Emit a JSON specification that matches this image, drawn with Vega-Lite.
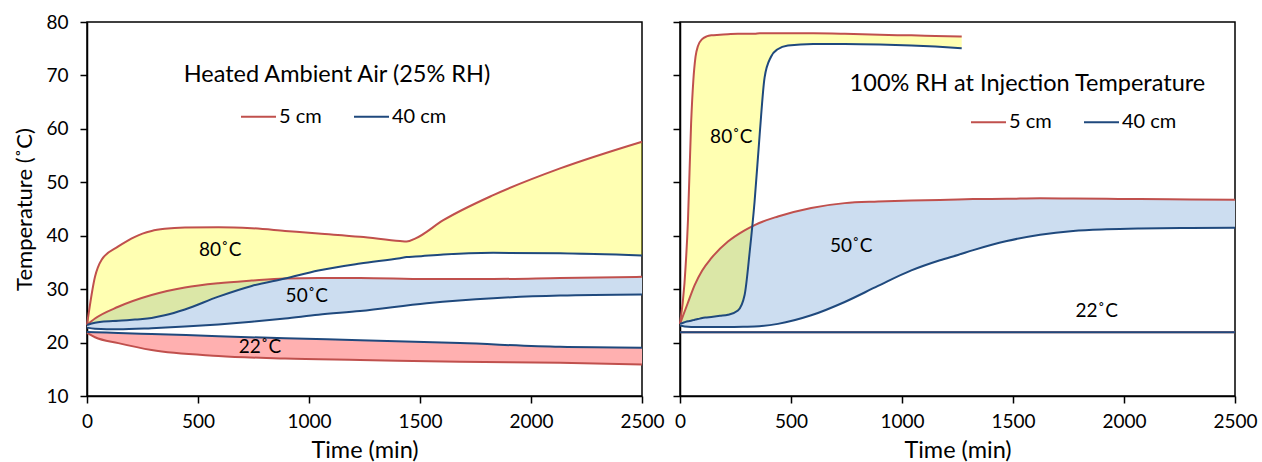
{
  "$schema": "https://vega.github.io/schema/vega-lite/v6.json",
  "padding": {"left": 13, "top": 12, "right": 2, "bottom": 2},
  "background": "white",
  "config": {
    "font": "Lato",
    "view": {"stroke": "black", "strokeWidth": 1.5},
    "axis": {"grid": false, "domainColor": "black", "domainWidth": 1.5, "tickColor": "black", "tickWidth": 1.5, "tickSize": 7, "labelColor": "black", "titleColor": "black", "labelFont": "Lato", "titleFont": "Lato", "labelFontSize": 19, "titleFontSize": 23.5, "titleFontWeight": "normal", "format": "d"},
    "axisX": {"labelPadding": 9, "titlePadding": 7},
    "axisY": {"labelPadding": 12, "titlePadding": 9, "titleFontSize": 22},
    "legend": {"orient": "none", "direction": "horizontal", "symbolType": "stroke", "symbolSize": 1225, "symbolStrokeWidth": 2, "labelFont": "Lato", "labelFontSize": 20, "labelColor": "black", "labelOffset": 2, "columnPadding": 28, "title": null}
  },
  "datasets": {
    "left": [
      {"cond": "80", "time": 0, "t5": 23.3, "t40": 23.3},
      {"cond": "80", "time": 36, "t5": 32.3, "t40": 23.7},
      {"cond": "80", "time": 66, "t5": 35.5, "t40": 23.9},
      {"cond": "80", "time": 141, "t5": 38.0, "t40": 24.1},
      {"cond": "80", "time": 180, "t5": 39.0, "t40": 24.2},
      {"cond": "80", "time": 216, "t5": 39.8, "t40": 24.3},
      {"cond": "80", "time": 250, "t5": 40.4, "t40": 24.4},
      {"cond": "80", "time": 291, "t5": 40.9, "t40": 24.6},
      {"cond": "80", "time": 350, "t5": 41.3, "t40": 25.1},
      {"cond": "80", "time": 441, "t5": 41.55, "t40": 26.2},
      {"cond": "80", "time": 592, "t5": 41.6, "t40": 28.6},
      {"cond": "80", "time": 742, "t5": 41.4, "t40": 30.6},
      {"cond": "80", "time": 892, "t5": 40.9, "t40": 32.0},
      {"cond": "80", "time": 1042, "t5": 40.4, "t40": 33.5},
      {"cond": "80", "time": 1230, "t5": 39.8, "t40": 34.8},
      {"cond": "80", "time": 1410, "t5": 39.0, "t40": 35.8},
      {"cond": "80", "time": 1440, "t5": 38.9, "t40": 36.0},
      {"cond": "80", "time": 1480, "t5": 39.5, "t40": 36.1},
      {"cond": "80", "time": 1605, "t5": 42.9, "t40": 36.5},
      {"cond": "80", "time": 1830, "t5": 47.6, "t40": 36.8},
      {"cond": "80", "time": 2131, "t5": 52.6, "t40": 36.7},
      {"cond": "80", "time": 2500, "t5": 57.6, "t40": 36.3},
      {"cond": "50", "time": 0, "t5": 23.3, "t40": 22.8},
      {"cond": "50", "time": 36, "t5": 24.5, "t40": 22.6},
      {"cond": "50", "time": 141, "t5": 26.7, "t40": 22.5},
      {"cond": "50", "time": 291, "t5": 28.9, "t40": 22.7},
      {"cond": "50", "time": 441, "t5": 30.3, "t40": 23.0},
      {"cond": "50", "time": 592, "t5": 31.1, "t40": 23.4},
      {"cond": "50", "time": 742, "t5": 31.6, "t40": 23.9},
      {"cond": "50", "time": 892, "t5": 32.0, "t40": 24.5},
      {"cond": "50", "time": 1042, "t5": 32.1, "t40": 25.2},
      {"cond": "50", "time": 1230, "t5": 32.1, "t40": 25.9},
      {"cond": "50", "time": 1530, "t5": 31.9, "t40": 27.35},
      {"cond": "50", "time": 1830, "t5": 31.9, "t40": 28.3},
      {"cond": "50", "time": 2131, "t5": 32.1, "t40": 28.8},
      {"cond": "50", "time": 2500, "t5": 32.3, "t40": 29.0},
      {"cond": "22", "time": 0, "t5": 21.8, "t40": 22.0},
      {"cond": "22", "time": 36, "t5": 21.0, "t40": 21.95},
      {"cond": "22", "time": 141, "t5": 19.9, "t40": 21.8},
      {"cond": "22", "time": 291, "t5": 18.6, "t40": 21.6},
      {"cond": "22", "time": 592, "t5": 17.5, "t40": 21.2},
      {"cond": "22", "time": 892, "t5": 17.0, "t40": 20.8},
      {"cond": "22", "time": 1230, "t5": 16.75, "t40": 20.45},
      {"cond": "22", "time": 1680, "t5": 16.4, "t40": 19.9},
      {"cond": "22", "time": 2131, "t5": 16.2, "t40": 19.2},
      {"cond": "22", "time": 2500, "t5": 15.9, "t40": 19.05}
    ],
    "right": [
      {"cond": "80", "time": 0, "t5": 23.5, "t40": 23.5},
      {"cond": "80", "time": 20, "t5": 31.0, "t40": 23.8},
      {"cond": "80", "time": 36, "t5": 43.0, "t40": 24.0},
      {"cond": "80", "time": 50, "t5": 61.0, "t40": 24.1},
      {"cond": "80", "time": 60, "t5": 69.0, "t40": 24.2},
      {"cond": "80", "time": 70, "t5": 73.5, "t40": 24.3},
      {"cond": "80", "time": 81, "t5": 75.5, "t40": 24.4},
      {"cond": "80", "time": 100, "t5": 76.8, "t40": 24.6},
      {"cond": "80", "time": 120, "t5": 77.3, "t40": 24.7},
      {"cond": "80", "time": 141, "t5": 77.5, "t40": 24.8},
      {"cond": "80", "time": 180, "t5": 77.6, "t40": 25.0},
      {"cond": "80", "time": 216, "t5": 77.7, "t40": 25.2},
      {"cond": "80", "time": 261, "t5": 77.8, "t40": 26.0},
      {"cond": "80", "time": 291, "t5": 77.8, "t40": 28.9},
      {"cond": "80", "time": 314, "t5": 77.8, "t40": 37.0},
      {"cond": "80", "time": 336, "t5": 77.8, "t40": 46.4},
      {"cond": "80", "time": 359, "t5": 77.9, "t40": 59.0},
      {"cond": "80", "time": 381, "t5": 77.9, "t40": 69.6},
      {"cond": "80", "time": 410, "t5": 77.9, "t40": 73.5},
      {"cond": "80", "time": 440, "t5": 77.9, "t40": 74.9},
      {"cond": "80", "time": 486, "t5": 77.9, "t40": 75.6},
      {"cond": "80", "time": 600, "t5": 77.9, "t40": 75.9},
      {"cond": "80", "time": 742, "t5": 77.8, "t40": 75.9},
      {"cond": "80", "time": 900, "t5": 77.6, "t40": 75.8},
      {"cond": "80", "time": 1042, "t5": 77.5, "t40": 75.6},
      {"cond": "80", "time": 1150, "t5": 77.4, "t40": 75.4},
      {"cond": "80", "time": 1269, "t5": 77.3, "t40": 75.1},
      {"cond": "50", "time": 0, "t5": 23.5, "t40": 23.2},
      {"cond": "50", "time": 36, "t5": 27.5, "t40": 22.95},
      {"cond": "50", "time": 66, "t5": 30.75, "t40": 22.9},
      {"cond": "50", "time": 100, "t5": 33.5, "t40": 22.9},
      {"cond": "50", "time": 141, "t5": 35.8, "t40": 22.9},
      {"cond": "50", "time": 216, "t5": 38.9, "t40": 22.9},
      {"cond": "50", "time": 291, "t5": 41.0, "t40": 22.95},
      {"cond": "50", "time": 336, "t5": 42.0, "t40": 23.0},
      {"cond": "50", "time": 441, "t5": 43.6, "t40": 23.5},
      {"cond": "50", "time": 591, "t5": 45.2, "t40": 25.1},
      {"cond": "50", "time": 742, "t5": 46.1, "t40": 27.6},
      {"cond": "50", "time": 892, "t5": 46.4, "t40": 30.6},
      {"cond": "50", "time": 1042, "t5": 46.6, "t40": 33.5},
      {"cond": "50", "time": 1171, "t5": 46.7, "t40": 35.4},
      {"cond": "50", "time": 1252, "t5": 46.8, "t40": 36.4},
      {"cond": "50", "time": 1321, "t5": 46.85, "t40": 37.3},
      {"cond": "50", "time": 1472, "t5": 46.9, "t40": 39.0},
      {"cond": "50", "time": 1622, "t5": 47.0, "t40": 40.2},
      {"cond": "50", "time": 1771, "t5": 46.95, "t40": 40.9},
      {"cond": "50", "time": 1922, "t5": 46.9, "t40": 41.2},
      {"cond": "50", "time": 2072, "t5": 46.85, "t40": 41.35},
      {"cond": "50", "time": 2300, "t5": 46.8, "t40": 41.45},
      {"cond": "50", "time": 2500, "t5": 46.75, "t40": 41.5},
      {"cond": "22", "time": 0, "t5": 21.95, "t40": 21.95},
      {"cond": "22", "time": 2500, "t5": 21.95, "t40": 21.95}
    ],
    "leftText": [
      {"label": "80˚C", "time": 600, "temp": 37.4},
      {"label": "50˚C", "time": 990, "temp": 28.8},
      {"label": "22˚C", "time": 779, "temp": 19.1}
    ],
    "leftTitle": [
      {"label": "Heated Ambient Air (25% RH)", "time": 1126, "temp": 70.1}
    ],
    "rightText": [
      {"label": "80˚C", "time": 231, "temp": 58.5},
      {"label": "50˚C", "time": 771, "temp": 38.1},
      {"label": "22˚C", "time": 1877, "temp": 25.9}
    ],
    "rightTitle": [
      {"label": "100% RH at Injection Temperature", "time": 1565, "temp": 68.4}
    ]
  },
  "spacing": 6,
  "resolve": {"scale": {"color": "independent"}, "legend": {"color": "independent"}},
  "hconcat": [
    {
      "width": 555,
      "height": 374,
      "data": {"name": "left"},
      "encoding": {
        "x": {"field": "time", "type": "quantitative", "scale": {"domain": [0, 2500], "nice": false}, "axis": {"values": [0, 500, 1000, 1500, 2000, 2500], "title": "Time (min)", "labelFlush": false}},
        "y": {"field": "t5", "type": "quantitative", "scale": {"domain": [10, 80], "nice": false}, "axis": {"values": [10, 20, 30, 40, 50, 60, 70, 80], "title": "Temperature (˚C)"}}
      },
      "layer": [
        {
          "transform": [{"filter": "datum.cond != '80'"}],
          "mark": {"type": "area", "interpolate": "monotone"},
          "encoding": {
            "y2": {"field": "t40"},
            "fill": {"field": "cond", "type": "nominal", "scale": {"domain": ["50", "22"], "range": ["#CCDDF0", "#FFB0B0"]}, "legend": null},
            "detail": {"field": "cond"}
          }
        },
        {
          "transform": [{"filter": "datum.cond == '80'"}],
          "mark": {"type": "area", "interpolate": "monotone", "color": "#FFFF00", "opacity": 0.3},
          "encoding": {"y2": {"field": "t40"}}
        },
        {
          "mark": {"type": "line", "interpolate": "monotone", "strokeWidth": 2},
          "encoding": {
            "detail": {"field": "cond"},
            "color": {"datum": "5 cm", "type": "nominal", "scale": {"domain": ["5 cm", "40 cm"], "range": ["#C0504D", "#1F497D"]}, "legend": {"legendX": 153, "legendY": 76}}
          }
        },
        {
          "mark": {"type": "line", "interpolate": "monotone", "strokeWidth": 2},
          "encoding": {
            "y": {"field": "t40", "type": "quantitative"},
            "detail": {"field": "cond"},
            "color": {"datum": "40 cm", "type": "nominal"}
          }
        },
        {
          "data": {"name": "leftText"},
          "mark": {"type": "text", "fontSize": 19, "font": "Lato", "color": "black"},
          "encoding": {"y": {"field": "temp", "type": "quantitative"}, "text": {"field": "label"}}
        },
        {
          "data": {"name": "leftTitle"},
          "mark": {"type": "text", "fontSize": 23.5, "font": "Lato", "color": "black"},
          "encoding": {"y": {"field": "temp", "type": "quantitative"}, "text": {"field": "label"}}
        }
      ]
    },
    {
      "width": 555,
      "height": 374,
      "data": {"name": "right"},
      "encoding": {
        "x": {"field": "time", "type": "quantitative", "scale": {"domain": [0, 2500], "nice": false}, "axis": {"values": [0, 500, 1000, 1500, 2000, 2500], "title": "Time (min)", "labelFlush": false}},
        "y": {"field": "t5", "type": "quantitative", "scale": {"domain": [10, 80], "nice": false}, "axis": {"values": [10, 20, 30, 40, 50, 60, 70, 80], "labels": false, "title": null}}
      },
      "layer": [
        {
          "transform": [{"filter": "datum.cond != '80'"}],
          "mark": {"type": "area", "interpolate": "monotone"},
          "encoding": {
            "y2": {"field": "t40"},
            "fill": {"field": "cond", "type": "nominal", "scale": {"domain": ["50", "22"], "range": ["#CCDDF0", "#FFB0B0"]}, "legend": null},
            "detail": {"field": "cond"}
          }
        },
        {
          "transform": [{"filter": "datum.cond == '80'"}],
          "mark": {"type": "area", "interpolate": "monotone", "color": "#FFFF00", "opacity": 0.3},
          "encoding": {"y2": {"field": "t40"}}
        },
        {
          "mark": {"type": "line", "interpolate": "monotone", "strokeWidth": 2},
          "encoding": {
            "detail": {"field": "cond"},
            "color": {"datum": "5 cm", "type": "nominal", "scale": {"domain": ["5 cm", "40 cm"], "range": ["#C0504D", "#1F497D"]}, "legend": {"legendX": 290, "legendY": 81.5}}
          }
        },
        {
          "mark": {"type": "line", "interpolate": "monotone", "strokeWidth": 2},
          "encoding": {
            "y": {"field": "t40", "type": "quantitative"},
            "detail": {"field": "cond"},
            "color": {"datum": "40 cm", "type": "nominal"}
          }
        },
        {
          "data": {"name": "rightText"},
          "mark": {"type": "text", "fontSize": 19, "font": "Lato", "color": "black"},
          "encoding": {"y": {"field": "temp", "type": "quantitative"}, "text": {"field": "label"}}
        },
        {
          "data": {"name": "rightTitle"},
          "mark": {"type": "text", "fontSize": 23.5, "font": "Lato", "color": "black"},
          "encoding": {"y": {"field": "temp", "type": "quantitative"}, "text": {"field": "label"}}
        }
      ]
    }
  ]
}
